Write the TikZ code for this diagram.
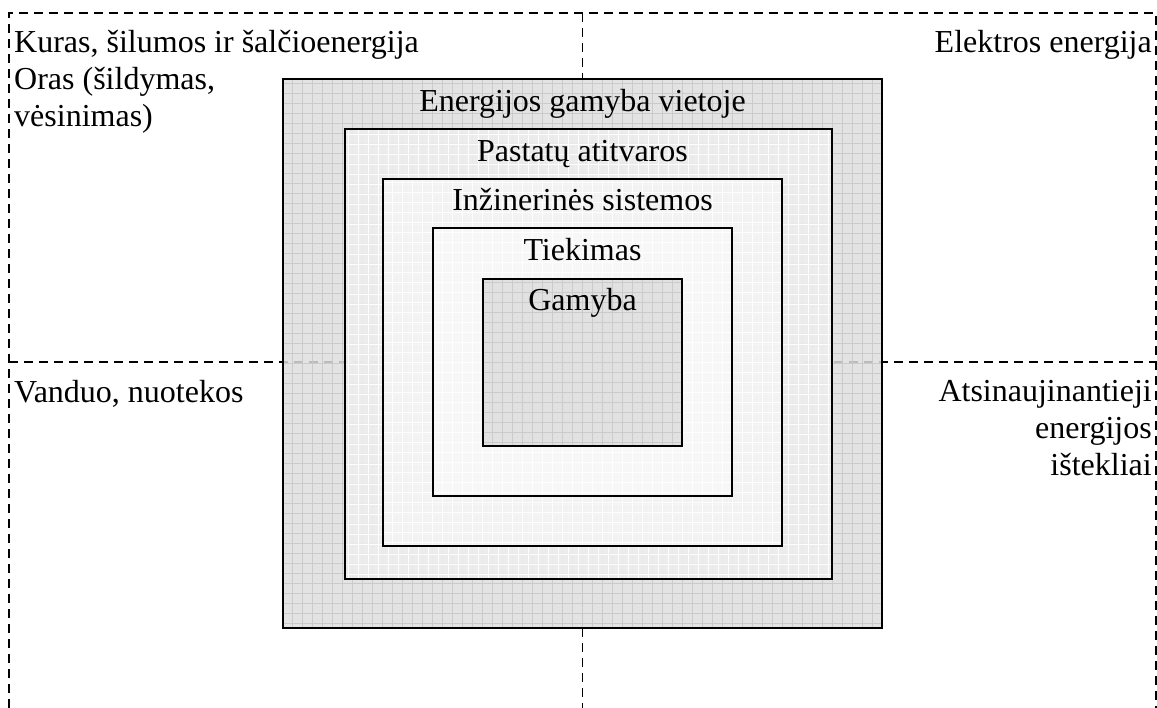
\documentclass[tikz,border=0pt]{standalone}
\usepackage{fontspec}
\setmainfont{Liberation Serif}
\definecolor{darkfill}{HTML}{DEDEDE}
\definecolor{darkgrid}{HTML}{C9C9C9}
\definecolor{lightfill}{HTML}{EFEFEF}
\definecolor{lighterfill}{HTML}{F4F4F4}
\definecolor{palefill}{HTML}{F8F8F8}
\tikzset{
  frameline/.style={line width=1.1pt, dash pattern=on 9pt off 6pt},
  layer/.style={draw=black, line width=1.6pt, inner sep=0pt, fill opacity=0.85,
    path picture={\draw[#1, line width=0.6pt, opacity=0.9, step=10pt]
      (path picture bounding box.south west) grid (path picture bounding box.north east);}},
  darklayer/.style={layer=darkgrid, fill=darkfill},
  lightlayer/.style={layer=white, fill=#1},
  caption/.style={font=\fontsize{32}{37}\selectfont, inner sep=0pt},
}
\begin{document}
\begin{tikzpicture}[x=1pt, y=-1pt]
\useasboundingbox (0,0) rectangle (1157,708);

% quadrant frame
\coordinate (tl) at (9,13);
\coordinate (tr) at (1156,13);
\coordinate (bl) at (9,708);
\coordinate (br) at (1156,708);
\coordinate (ml) at (9,362);
\coordinate (mr) at (1156,362);
\coordinate (tc) at (582.5,13);
\coordinate (bc) at (582.5,708);
\draw[frameline] (bl) -- (tl) -- (tr) -- (br);
\draw[frameline] (ml) -- (mr);
\draw[frameline] (tc) -- (bc);

% nested layers
\node[darklayer, minimum width=599pt, minimum height=549pt] (site) at (582.5,353.5) {};
\node[lightlayer=lightfill, minimum width=487pt, minimum height=450pt] (envelope) at (588.5,354) {};
\node[lightlayer=lighterfill, minimum width=399pt, minimum height=367pt] (systems) at (582.5,362.5) {};
\node[lightlayer=palefill, minimum width=299pt, minimum height=268pt] (supply) at (582.5,362) {};
\node[darklayer, minimum width=199pt, minimum height=167pt] (production) at (582.5,362.5) {};

% layer captions
\node[caption, anchor=base] (tsite) at (582.5,112) {Energijos gamyba vietoje};
\node[caption, anchor=base] (tenvelope) at (582.5,162) {Pastatų atitvaros};
\node[caption, anchor=base] (tsystems) at (582.5,211) {Inžinerinės sistemos};
\node[caption, anchor=base] (tsupply) at (582.5,261) {Tiekimas};
\node[caption, anchor=base] (tproduction) at (582.5,311) {Gamyba};

% quadrant captions
\node[caption, anchor=base west] (qfuel) at (14,53) {Kuras, šilumos ir šalčioenergija};
\node[caption, anchor=north west, align=left] (qair) at (14,67) {Oras (šildymas,\\vėsinimas)};
\node[caption, anchor=base east] (qelec) at (1152,53) {Elektros energija};
\node[caption, anchor=base west] (qwater) at (14,403) {Vanduo, nuotekos};
\node[caption, anchor=north east, align=right] (qrenew) at (1152,380) {Atsinaujinantieji\\energijos\\ištekliai};
\end{tikzpicture}
\end{document}
